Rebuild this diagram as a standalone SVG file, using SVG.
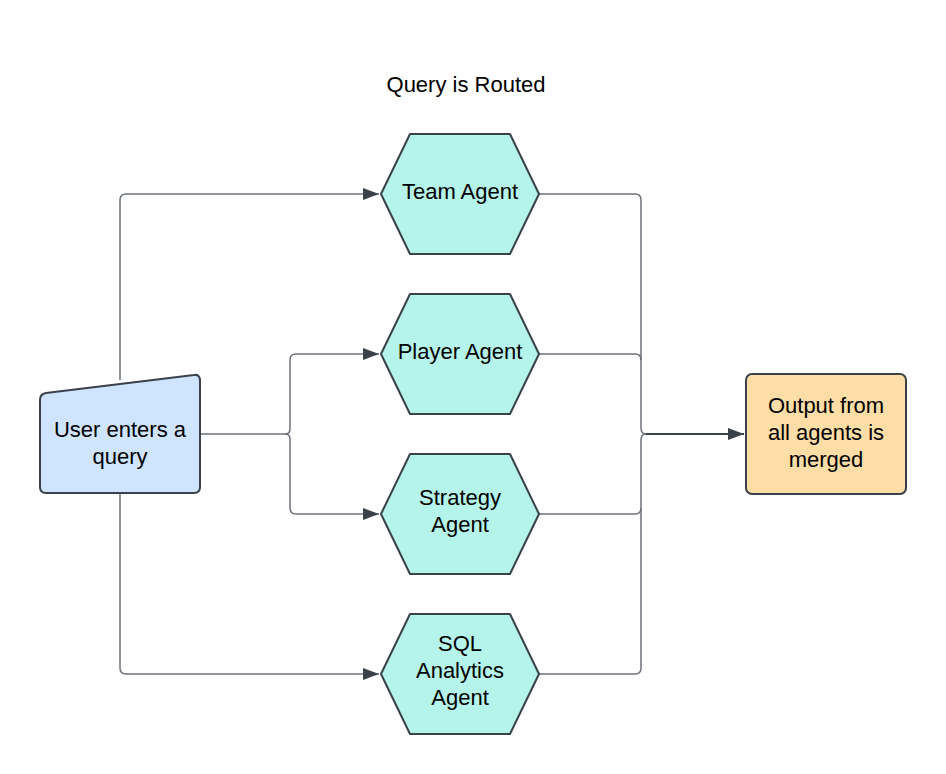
<svg xmlns="http://www.w3.org/2000/svg" width="946" height="774" viewBox="0 0 946 774">
<style>
.hex{fill:#b5f4ea;stroke:#3a414a;stroke-width:2;stroke-linejoin:round}
.t{font-family:"Liberation Sans",Arial,sans-serif;font-size:22px;fill:#000;text-anchor:middle}
.c{fill:none;stroke:#6b7079;stroke-width:1.5}
.cd{fill:none;stroke:#3a414a;stroke-width:2}
</style>
<defs>
<marker id="ah" markerWidth="16" markerHeight="12" refX="16" refY="6" orient="auto" markerUnits="userSpaceOnUse">
<path d="M0,0 L16,6 L0,12 Z" fill="#3a414a"/>
</marker>
</defs>
<rect width="946" height="774" fill="#fff"/>
<text class="t" x="466" y="92">Query is Routed</text>
<g id="connectors">
<path class="c" d="M120,380 V200 Q120,194 126,194 H379" marker-end="url(#ah)"/>
<path class="c" d="M120,494 V668 Q120,674 126,674 H379" marker-end="url(#ah)"/>
<path class="c" d="M200,434 H285 Q290,434 290,429 V360 Q290,354 296,354 H379" marker-end="url(#ah)"/>
<path class="c" d="M285,434 Q290,434 290,439 V508 Q290,514 296,514 H379" marker-end="url(#ah)"/>
<path class="c" d="M539,194 H635 Q641,194 641,200 V428 Q641,434 646,434"/>
<path class="c" d="M539,354 H635 Q641,354 641,360"/>
<path class="c" d="M539,514 H635 Q641,514 641,508"/>
<path class="c" d="M539,674 H635 Q641,674 641,668 V440 Q641,434 646,434"/>
<path class="cd" d="M646,434 H744" marker-end="url(#ah)"/>
</g>
<g id="user">
<path d="M46,393 L194,375 Q200,374 200,381 V487 Q200,493 194,493 H46 Q40,493 40,487 V400 Q40,394 46,393 Z" fill="#cfe4ff" stroke="#3a414a" stroke-width="2"/>
<text class="t" x="120" y="437">User enters a</text>
<text class="t" x="120" y="464">query</text>
</g>
<g id="team">
<path class="hex" d="M410,134 H510 L539,194 L510,254 H410 L381,194 Z"/>
<text class="t" x="460" y="199">Team Agent</text>
</g>
<g id="player">
<path class="hex" d="M410,294 H510 L539,354 L510,414 H410 L381,354 Z"/>
<text class="t" x="460" y="359">Player Agent</text>
</g>
<g id="strategy">
<path class="hex" d="M410,454 H510 L539,514 L510,574 H410 L381,514 Z"/>
<text class="t" x="460" y="505">Strategy</text>
<text class="t" x="460" y="532">Agent</text>
</g>
<g id="sql">
<path class="hex" d="M410,614 H510 L539,674 L510,734 H410 L381,674 Z"/>
<text class="t" x="460" y="651">SQL</text>
<text class="t" x="460" y="678">Analytics</text>
<text class="t" x="460" y="705">Agent</text>
</g>
<g id="output">
<rect x="746" y="374" width="160" height="120" rx="6" fill="#ffdda6" stroke="#3a414a" stroke-width="2"/>
<text class="t" x="826" y="413">Output from</text>
<text class="t" x="826" y="440">all agents is</text>
<text class="t" x="826" y="467">merged</text>
</g>
</svg>
